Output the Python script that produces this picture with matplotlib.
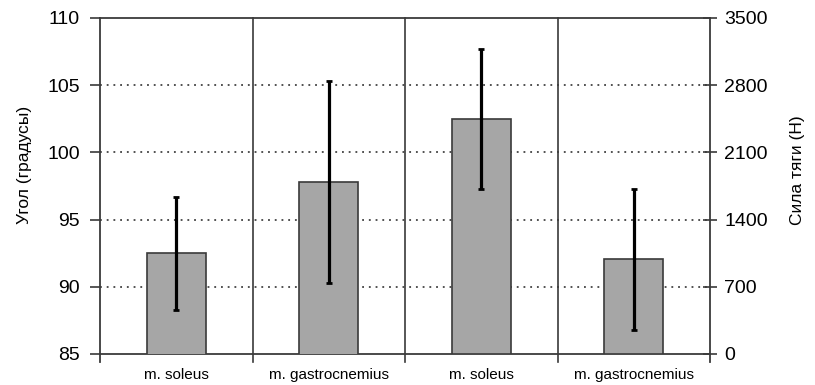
import matplotlib
matplotlib.use("Agg")
import matplotlib.pyplot as plt
from matplotlib import font_manager

names = {f.name for f in font_manager.fontManager.ttflist}
main_font = "Liberation Sans"
narrow_font = "Liberation Sans Narrow" if "Liberation Sans Narrow" in names else "Liberation Sans"
plt.rcParams["font.family"] = [main_font, "DejaVu Sans"]

# Data
categories = ["m. soleus", "m. gastrocnemius", "m. soleus", "m. gastrocnemius"]
angle_values = [92.5, 97.8]          # left axis, degrees
angle_errors = [4.2, 7.5]
force_values = [2445, 986]           # right axis, newtons
force_errors = [730, 735]
left_ticks = [85, 90, 95, 100, 105, 110]
right_ticks = [0, 700, 1400, 2100, 2800, 3500]

spine_col = "#3a3a3a"
bar_col = "#a6a6a6"

fig = plt.figure(figsize=(8.15, 3.85), dpi=100)
ax = fig.add_axes([100 / 815, 31 / 385, 610 / 815, 336 / 385])
ax2 = ax.twinx()

width = 0.39
err_kw = dict(ecolor="black", elinewidth=2.3, capsize=2.0, capthick=2.0)

ax.bar([0, 1], angle_values, width=width, bottom=0, color=bar_col,
       edgecolor=spine_col, linewidth=1.2, zorder=3)
ax.errorbar([0, 1], angle_values, yerr=angle_errors, fmt="none", zorder=4, **err_kw)

ax2.bar([2, 3], force_values, width=width, color=bar_col,
        edgecolor=spine_col, linewidth=1.2, zorder=3)
ax2.errorbar([2, 3], force_values, yerr=force_errors, fmt="none", zorder=4, **err_kw)

ax.set_xlim(-0.5, 3.5)
ax.set_ylim(85, 110)
ax2.set_ylim(0, 3500)
ax.set_yticks(left_ticks)
ax2.set_yticks(right_ticks)

# dotted horizontal guides
for v in left_ticks[1:-1]:
    ax.axhline(v, color="#222222", linestyle=(0, (1.2, 3.2)), linewidth=1.1, zorder=1)

# group separators, extending a little below the plot
for xb in [0.5, 1.5, 2.5]:
    ax.plot([xb, xb], [85 - 0.6, 110], color=spine_col, linewidth=1.2,
            clip_on=False, zorder=2)
for xb in [-0.5, 3.5]:
    ax.plot([xb, xb], [85 - 0.6, 110], color=spine_col, linewidth=1.3,
            clip_on=False, zorder=5)

for a in (ax, ax2):
    for s in a.spines.values():
        s.set_visible(False)
for side in ("top", "bottom"):
    ax.spines[side].set_visible(True)
    ax.spines[side].set_color(spine_col)
    ax.spines[side].set_linewidth(1.3)

ax.set_xticks(range(4))
ax.set_xticklabels(categories, fontsize=11, family=[narrow_font, "DejaVu Sans"])
ax.tick_params(axis="x", length=0, pad=10)
ax.tick_params(axis="y", direction="out", length=7.5, width=1.2, color=spine_col,
               labelsize=14, pad=7)
ax2.tick_params(axis="y", direction="inout", length=9.5, width=1.2, color=spine_col,
                labelsize=14, pad=5.5)
ax2.tick_params(axis="x", length=0)

ax.set_ylabel("Угол (градусы)", fontsize=12.5)
ax2.set_ylabel("Сила тяги (Н)", fontsize=12.5)
ax.yaxis.set_label_coords(-0.1115, 0.5625)
ax2.yaxis.set_label_coords(1.1311, 0.5476)

fig.savefig("out.png", dpi=100)
